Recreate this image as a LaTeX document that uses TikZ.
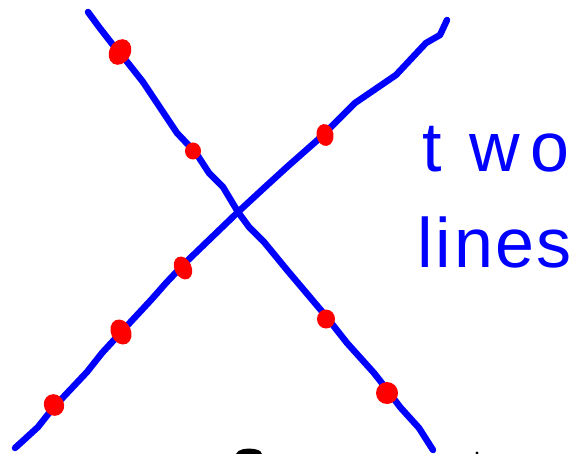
\documentclass[tikz,border=0pt]{standalone}
\usepackage{fontspec}
\setmainfont{Liberation Sans}
\definecolor{penblue}{RGB}{0,0,255}
\definecolor{penred}{RGB}{255,0,0}
\begin{document}
\begin{tikzpicture}[x=1pt,y=-1pt,
  stroke/.style={draw=penblue,line width=6.5pt,line cap=round,line join=round},
  blob/.style={fill=penred,draw=none},
  word/.style={inner sep=0pt,anchor=base west,text=penblue,font=\fontsize{70}{70}\selectfont}]
\useasboundingbox (0,0) rectangle (588,454);
\fill[white] (0,0) rectangle (588,454);
% line 1: top-left to bottom-right
\draw[stroke] (88,12) -- (99,27) -- (113,45) -- (128,63) -- (143,82) -- (177,133) -- (196,153) -- (209,173) -- (223,187) -- (238,212) -- (249,227) -- (264,242) -- (287,270) -- (325,315) -- (347,343) -- (374,373) -- (385,387) -- (400,407) -- (419,428) -- (433,450);
% line 2: bottom-left to top-right
\draw[stroke] (15,448) -- (26,438) -- (38,427) -- (53,408) -- (87,372) -- (102,353) -- (125,328) -- (151,300) -- (166,283) -- (185,263) -- (211,238) -- (238,212) -- (264,188) -- (287,167) -- (321,137) -- (355,103) -- (396,75) -- (426,43) -- (440,35) -- (447,20);
% red dots on line 1
\fill[blob,rotate around={-30:(120,52)}] (120,52) ellipse [x radius=10.5, y radius=13.5];
\fill[blob] (193,151) ellipse [x radius=8, y radius=8.5];
\fill[blob] (326,319) ellipse [x radius=9, y radius=9.5];
\fill[blob] (387,393) ellipse [x radius=11, y radius=11];
% red dots on line 2
\fill[blob,rotate around={25:(54,405)}] (54,405) ellipse [x radius=10, y radius=11];
\fill[blob,rotate around={25:(121,332)}] (121,332) ellipse [x radius=10, y radius=13];
\fill[blob,rotate around={25:(183,268)}] (183,268) ellipse [x radius=8.5, y radius=12];
\fill[blob,rotate around={10:(325,135)}] (325,135) ellipse [x radius=8.5, y radius=11];
% text
\node[word] (two) at (422,172) {t\kern28pt w\kern10pt o};
\node[word] (lines) at (417,267) {l\kern3pt i\kern3pt n\kern2pt e\kern2pt s};
% cut-off marks at the bottom edge
\fill[black] (236,454) .. controls (238,449) and (246,448) .. (254,449) .. controls (260,450) and (262,452) .. (262,454) -- cycle;
\fill[black] (477,453) circle [radius=1.6];
\end{tikzpicture}
\end{document}
